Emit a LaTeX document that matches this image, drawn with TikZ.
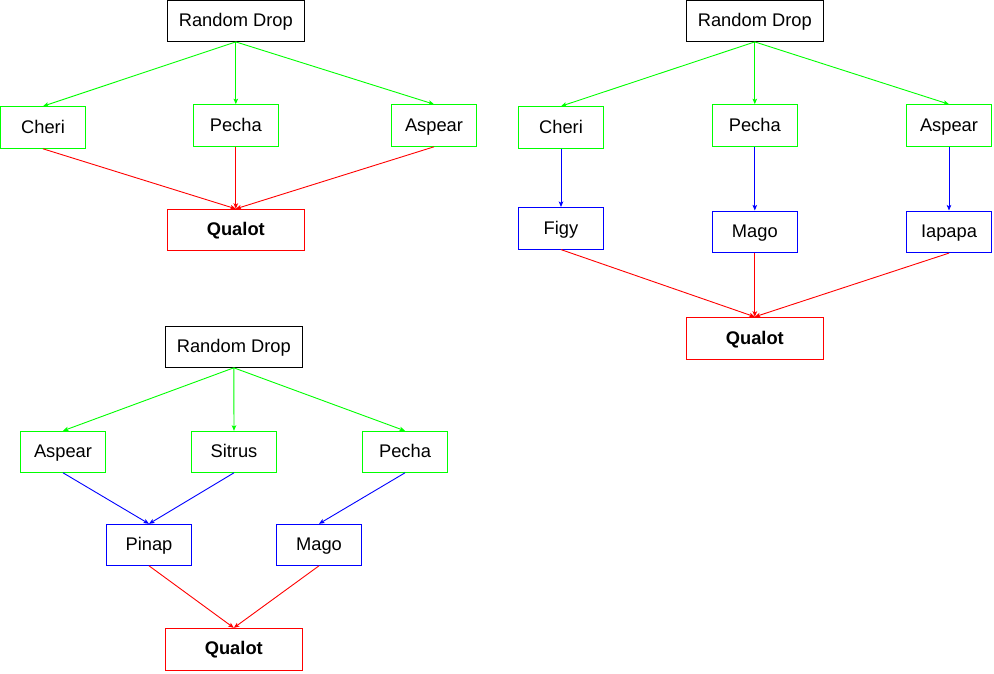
\documentclass[tikz,border=0pt]{standalone}
\usepackage{fontspec}
\setmainfont{Liberation Sans}
\usetikzlibrary{arrows.meta}
\definecolor{cgreen}{RGB}{0,255,0}
\definecolor{cred}{RGB}{255,0,0}
\definecolor{cblue}{RGB}{0,0,255}
\definecolor{ctext}{RGB}{0,0,0}
\tikzset{
  box/.style={draw, line width=1pt, rectangle, minimum width=85.4pt, minimum height=41.6pt, inner sep=0pt, text height=14pt, text depth=2.6pt, font=\fontsize{18.3}{20}\selectfont, text=ctext},
  wide/.style={box, minimum width=137pt, minimum height=40.8pt},
  gbox/.style={box, draw=cgreen},
  bbox/.style={box, draw=cblue},
  rbox/.style={wide, draw=cred, font=\fontsize{18.3}{20}\selectfont\bfseries},
  kbox/.style={wide, draw=black},
  conn/.style={line width=0.9pt, -{Stealth[length=5.5pt,width=4.5pt,inset=1.2pt]}},
  gline/.style={conn, cgreen},
  bline/.style={conn, cblue},
  rline/.style={conn, cred},
}
\begin{document}
\begin{tikzpicture}[x=1pt,y=-1pt]
\useasboundingbox (0,0) rectangle (994,673);
% Diagram 1
\node[kbox] (ar) at (235.8,21) {Random Drop};
\node[gbox] (ac) at (43,127.5) {Cheri};
\node[gbox] (ap) at (235.8,125.5) {Pecha};
\node[gbox] (aa) at (434,125.5) {Aspear};
\node[rbox] (aq) at (235.8,229.7) {Qualot};
\draw[gline] (ar.south) -- (ac.north);
\draw[gline] (ar.south) -- (ap.north);
\draw[gline] (ar.south) -- (aa.north);
\draw[rline] (ac.south) -- (aq.north);
\draw[rline] (ap.south) -- (aq.north);
\draw[rline] (aa.south) -- (aq.north);
% Diagram 2
\node[kbox] (br) at (754.8,21) {Random Drop};
\node[gbox] (bc) at (561,127.5) {Cheri};
\node[gbox] (bp) at (754.8,125.5) {Pecha};
\node[gbox] (ba) at (949,125.5) {Aspear};
\node[bbox] (bf) at (561,228.3) {Figy};
\node[bbox] (bm) at (754.8,231.8) {Mago};
\node[bbox] (bi) at (949,231.8) {Iapapa};
\node[rbox, minimum height=42pt] (bq) at (754.8,338.3) {Qualot};
\draw[gline] (br.south) -- (bc.north);
\draw[gline] (br.south) -- (bp.north);
\draw[gline] (br.south) -- (ba.north);
\draw[bline] (bc.south) -- (bf.north);
\draw[bline] (bp.south) -- (bm.north);
\draw[bline] (ba.south) -- (bi.north);
\draw[rline] (bf.south) -- (bq.north);
\draw[rline] (bm.south) -- (bq.north);
\draw[rline] (bi.south) -- (bq.north);
% Diagram 3
\node[kbox, minimum height=41pt] (cr) at (233.8,346.8) {Random Drop};
\node[gbox, minimum height=41pt] (ca) at (63,451.8) {Aspear};
\node[gbox, minimum height=41pt] (cs) at (234,451.8) {Sitrus};
\node[gbox, minimum height=41pt] (cp) at (405,451.8) {Pecha};
\node[bbox, minimum height=41pt] (cn) at (149,544.8) {Pinap};
\node[bbox, minimum height=41pt] (cm) at (319,544.8) {Mago};
\node[rbox, minimum height=41.7pt] (cq) at (233.8,649.2) {Qualot};
\draw[gline] (cr.south) -- (ca.north);
\draw[gline] (cr.south) -- (cs.north);
\draw[gline] (cr.south) -- (cp.north);
\draw[bline] (ca.south) -- (cn.north);
\draw[bline] (cs.south) -- (cn.north);
\draw[bline] (cp.south) -- (cm.north);
\draw[rline] (cn.south) -- (cq.north);
\draw[rline] (cm.south) -- (cq.north);
\end{tikzpicture}
\end{document}
